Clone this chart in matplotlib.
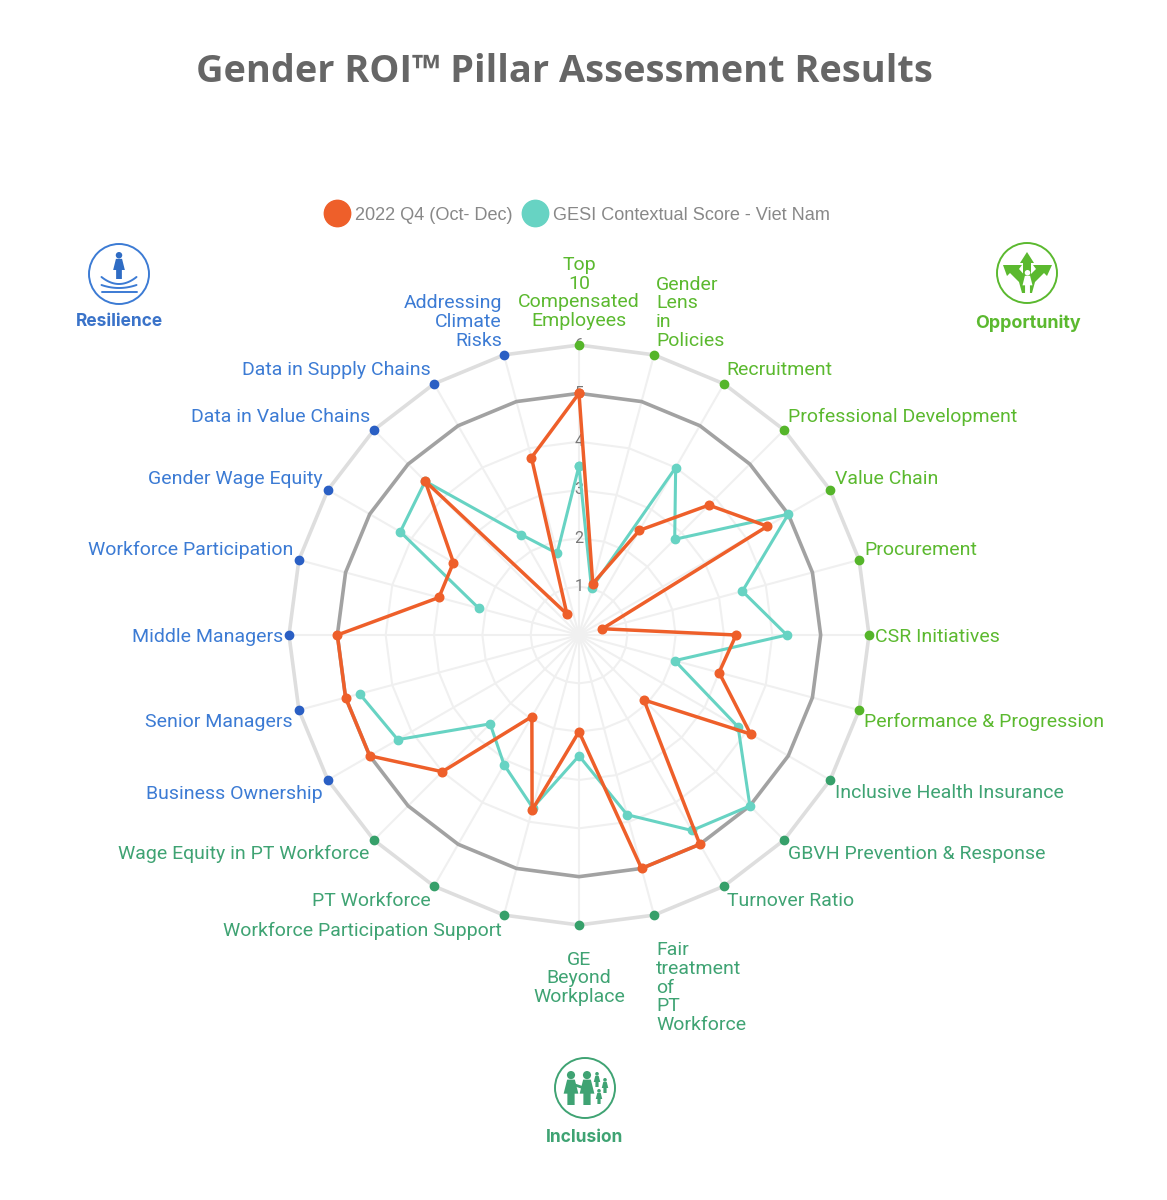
import matplotlib
matplotlib.use("Agg")
import matplotlib.pyplot as plt
import numpy as np
from matplotlib.lines import Line2D
from matplotlib.patches import Circle, Polygon

W, H = 1167, 1200

# Indicators clockwise from the top
labels = [
    "Top\n10\nCompensated\nEmployees", "Gender\nLens\nin\nPolicies", "Recruitment",
    "Professional Development", "Value Chain", "Procurement", "CSR Initiatives",
    "Performance & Progression", "Inclusive Health Insurance",
    "GBVH Prevention & Response", "Turnover Ratio", "Fair\ntreatment\nof\nPT\nWorkforce",
    "GE\nBeyond\nWorkplace", "Workforce Participation Support", "PT Workforce",
    "Wage Equity in PT Workforce", "Business Ownership", "Senior Managers",
    "Middle Managers", "Workforce Participation", "Gender Wage Equity",
    "Data in Value Chains", "Data in Supply Chains", "Addressing\nClimate\nRisks",
]
q4_2022 = [5.0, 1.1, 2.5, 3.8, 4.5, 0.5, 3.25, 3.0, 4.1, 1.9, 5.0, 5.0,
           2.0, 3.75, 1.95, 4.0, 5.0, 5.0, 5.0, 3.0, 3.0, 4.5, 0.5, 3.8]
# no contextual score for Middle Managers, so the line breaks there
gesi_score = [3.5, 1.0, 4.0, 2.8, 5.0, 3.5, 4.3, 2.05, 3.8, 5.0, 4.67, 3.85,
              2.5, 3.7, 3.1, 2.6, 4.33, 4.7, np.nan, 2.15, 4.27, 4.5, 2.4, 1.75]
ring_values = [1, 2, 3, 4, 5, 6]

OPP_GREEN = "#5bb92f"
INC_GREEN = "#3fa373"
RES_BLUE = "#3c7bd4"
pillar_colors = [OPP_GREEN] * 8 + [INC_GREEN] * 8 + [RES_BLUE] * 8
dot_colors = ["#55b52a"] * 8 + ["#36a06a"] * 8 + ["#2a5fc4"] * 8

# label offsets from the outer dots, in pixels
label_dx = [0, 2, 2, 4, 5, 5, 6, 5, 5, 4, 3, 2, 0, -2, -3, -5, -5, -6, -6, -6, -5, -4, -3, -2]
label_dy = [19, 9, 9, 8, 6.5, 5, -6.5, -17, -18.5, -19, -20, -115,
            -77, -21, -20, -19, -18.5, -17, -6.5, 5, 6.5, 8, 9, 9]

theta = np.deg2rad(np.arange(len(labels)) * 15.0)
closed = np.append(theta, theta[0])


def close(values):
    return np.append(values, values[0])


fig = plt.figure(figsize=(W / 100, H / 100), dpi=100, facecolor="white")

# radar, centred at (579, 635) with 290 px to the outer ring
ax = fig.add_axes([(579 - 290) / W, 1 - (635 + 290) / H, 580 / W, 580 / H], projection="polar")
ax.set_theta_zero_location("N")
ax.set_theta_direction(-1)
ax.set_ylim(0, 6)
ax.axis("off")

for t in theta:
    ax.plot([t, t], [0, 6], color="#f0f0f0", lw=1.5, zorder=1, clip_on=False)
for r in ring_values:
    if r == 6:
        color, lw = "#dedede", 2.6
    elif r == 5:
        color, lw = "#a2a2a2", 2.6
    else:
        color, lw = "#f0f0f0", 1.5
    ax.plot(closed, [r] * len(closed), color=color, lw=lw, zorder=2, clip_on=False)
    ax.text(0, r, str(r), color="#777777", fontsize=11.5, family="Roboto",
            ha="center", va="center", zorder=3)

ax.plot(closed, close(gesi_score), color="#67d3c3", lw=2.2, marker="o", ms=6,
        zorder=5, clip_on=False)
ax.plot(closed, close(q4_2022), color="#ee5f2a", lw=2.5, marker="o", ms=6.2,
        zorder=6, clip_on=False)

for i, t in enumerate(theta):
    ax.plot([t], [6], "o", color=dot_colors[i], ms=6, zorder=7, clip_on=False)
    if i == 0 or i == 12:
        ha = "center"
    elif i < 12:
        ha = "left"
    else:
        ha = "right"
    ax.annotate(labels[i], xy=(t, 6), xytext=(label_dx[i], label_dy[i]),
                textcoords="offset pixels", ha=ha, va="baseline", multialignment=ha,
                color=pillar_colors[i], fontsize=14, family="Roboto", linespacing=1.05,
                annotation_clip=False)

fig.text(564 / W, 1 - 72 / H, "Gender ROI\u2122 Pillar Assessment Results", color="#666666",
         fontsize=27.3, fontweight="bold", family="Open Sans", ha="center", va="center")

handles = [
    Line2D([], [], ls="none", marker="o", ms=19, color="#ee5f2a", label="2022 Q4 (Oct- Dec)"),
    Line2D([], [], ls="none", marker="o", ms=19, color="#67d3c3", label="GESI Contextual Score - Viet Nam"),
]
fig.legend(handles=handles, loc="center", bbox_to_anchor=(574.5 / W, 1 - 215 / H), ncol=2,
           frameon=False, labelcolor="#888888", handletextpad=0.0, columnspacing=0.2,
           prop={"family": "Liberation Sans", "size": 13.1})

# pillar badges, drawn on a pixel-sized overlay
icons = fig.add_axes([0, 0, 1, 1], zorder=10)
icons.set_xlim(0, W)
icons.set_ylim(H, 0)
icons.axis("off")
icons.patch.set_alpha(0)


def person(cx, top, h, color):
    # small standing figure: head, dress and legs
    s = h / 30.0
    icons.add_patch(Circle((cx, top + 3.6 * s), 3.6 * s, color=color, lw=0))
    icons.add_patch(Polygon([(cx - 3.4 * s, top + 7.6 * s), (cx + 3.4 * s, top + 7.6 * s),
                             (cx + 6.5 * s, top + 20 * s), (cx + 3.2 * s, top + 20 * s),
                             (cx + 3.2 * s, top + 30 * s), (cx - 3.2 * s, top + 30 * s),
                             (cx - 3.2 * s, top + 20 * s), (cx - 6.5 * s, top + 20 * s)],
                            closed=True, color=color, lw=0))


def badge(cx, cy, color):
    icons.add_patch(Circle((cx, cy), 30, fill=False, ec=color, lw=1.4))


# Resilience
badge(119, 274, RES_BLUE)
person(119, 252, 27, "#2f6cc4")
for depth, y in [(7, 277), (3, 285), (0, 292)]:
    xs = np.linspace(-17.5, 17.5, 30)
    icons.plot(119 + xs, y + depth * (1 - (xs / 17.5) ** 2), color=RES_BLUE, lw=1.4,
               solid_capstyle="round")
icons.text(119.5, 322, "Resilience", color="#3a73c9", fontsize=12.5, fontweight="bold",
           family="Inter", ha="center", va="center")

# Opportunity
badge(1027, 273, OPP_GREEN)
icons.add_patch(Polygon([(1027, 252), (1034, 263), (1031, 263), (1031, 278), (1023, 278),
                         (1023, 263), (1020, 263)], closed=True, color=OPP_GREEN, lw=0))
icons.add_patch(Polygon([(1003, 265), (1022, 265), (1019, 269), (1027, 278), (1027, 293),
                         (1022, 293), (1019, 282), (1010, 273), (1007, 276)],
                        closed=True, color=OPP_GREEN, lw=0))
icons.add_patch(Polygon([(1052, 265), (1033, 265), (1036, 269), (1027, 278), (1027, 293),
                         (1032, 293), (1035, 282), (1044, 273), (1047, 276)],
                        closed=True, color=OPP_GREEN, lw=0))
person(1027.5, 270, 23, "white")
icons.text(1028, 323, "Opportunity", color=OPP_GREEN, fontsize=12.9, fontweight="bold",
           family="Inter", ha="center", va="center")

# Inclusion
badge(585, 1088, INC_GREEN)
person(571, 1071, 34, INC_GREEN)
person(587, 1071, 34, INC_GREEN)
icons.plot([575, 584], [1085, 1088], color=INC_GREEN, lw=2)
person(597, 1072, 15, INC_GREEN)
person(605, 1078, 15, INC_GREEN)
person(599, 1089, 15, INC_GREEN)
icons.text(584.5, 1137, "Inclusion", color=INC_GREEN, fontsize=12.5, fontweight="bold",
           family="Inter", ha="center", va="center")

fig.savefig("out.png", dpi=100, facecolor="white")
